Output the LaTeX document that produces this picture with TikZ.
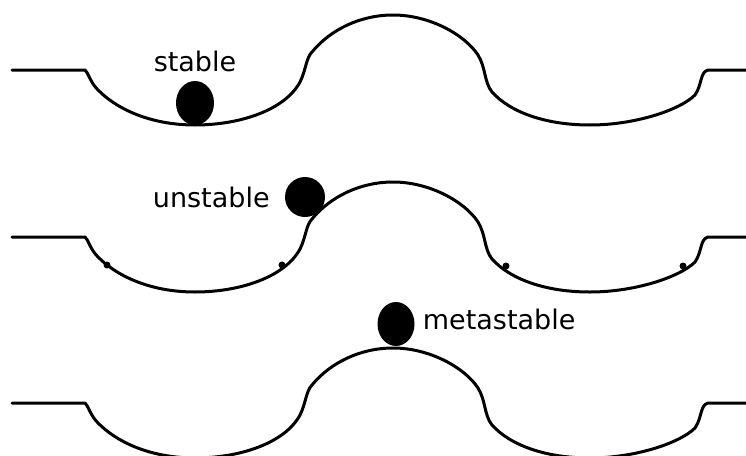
\documentclass[tikz,border=0pt]{standalone}
\usepackage{fontspec}
\setmainfont{DejaVu Sans}
\usetikzlibrary{positioning,shapes.geometric}

\begin{document}
\begin{tikzpicture}[line cap=round, line join=round, x=1pt, y=-1pt,
        ball/.style={ellipse, fill=black, minimum width=38pt, minimum height=44pt, inner sep=0pt},
        word/.style={font=\fontsize{27}{32}\selectfont, inner sep=2pt}]
    \useasboundingbox (0,0) rectangle (746,455);
    % one track: flat, bowl, hump, bowl, flat
    \foreach \dy in {0,167,333}
        \draw[line width=3pt, shift={(0,\dy)}]
            (12,70) -- (85,70)
            .. controls (88,72) and (90,82) .. (98,90)
            .. controls (120,112) and (155,125) .. (195,125)
            .. controls (240,125) and (285,110) .. (300,82)
            .. controls (306,70) and (306,58) .. (312,52)
            .. controls (330,30) and (360,15) .. (393,15)
            .. controls (430,15) and (465,35) .. (478,55)
            .. controls (486,68) and (484,82) .. (492,92)
            .. controls (510,112) and (545,125) .. (590,125)
            .. controls (635,125) and (680,110) .. (695,95)
            .. controls (702,85) and (700,72) .. (708,70)
            -- (746,70);
    % small marks left on the middle track
    \foreach \x/\y in {107/265, 282/265, 506/266, 683/266}
        \fill (\x,\y) circle (3.5pt);
    \node[ball] (stable) at (195,103) {};
    \node[ball, minimum width=40pt, minimum height=40pt] (unstable) at (305,197) {};
    \node[ball, minimum width=37pt] (metastable) at (396,324) {};
    \node[word, above=7pt of stable] (stabletext) {stable};
    \node[word, left=13pt of unstable] (unstabletext) {unstable};
    \node[word, right=6pt of metastable, yshift=5pt] (metastabletext) {metastable};
\end{tikzpicture}
\end{document}
